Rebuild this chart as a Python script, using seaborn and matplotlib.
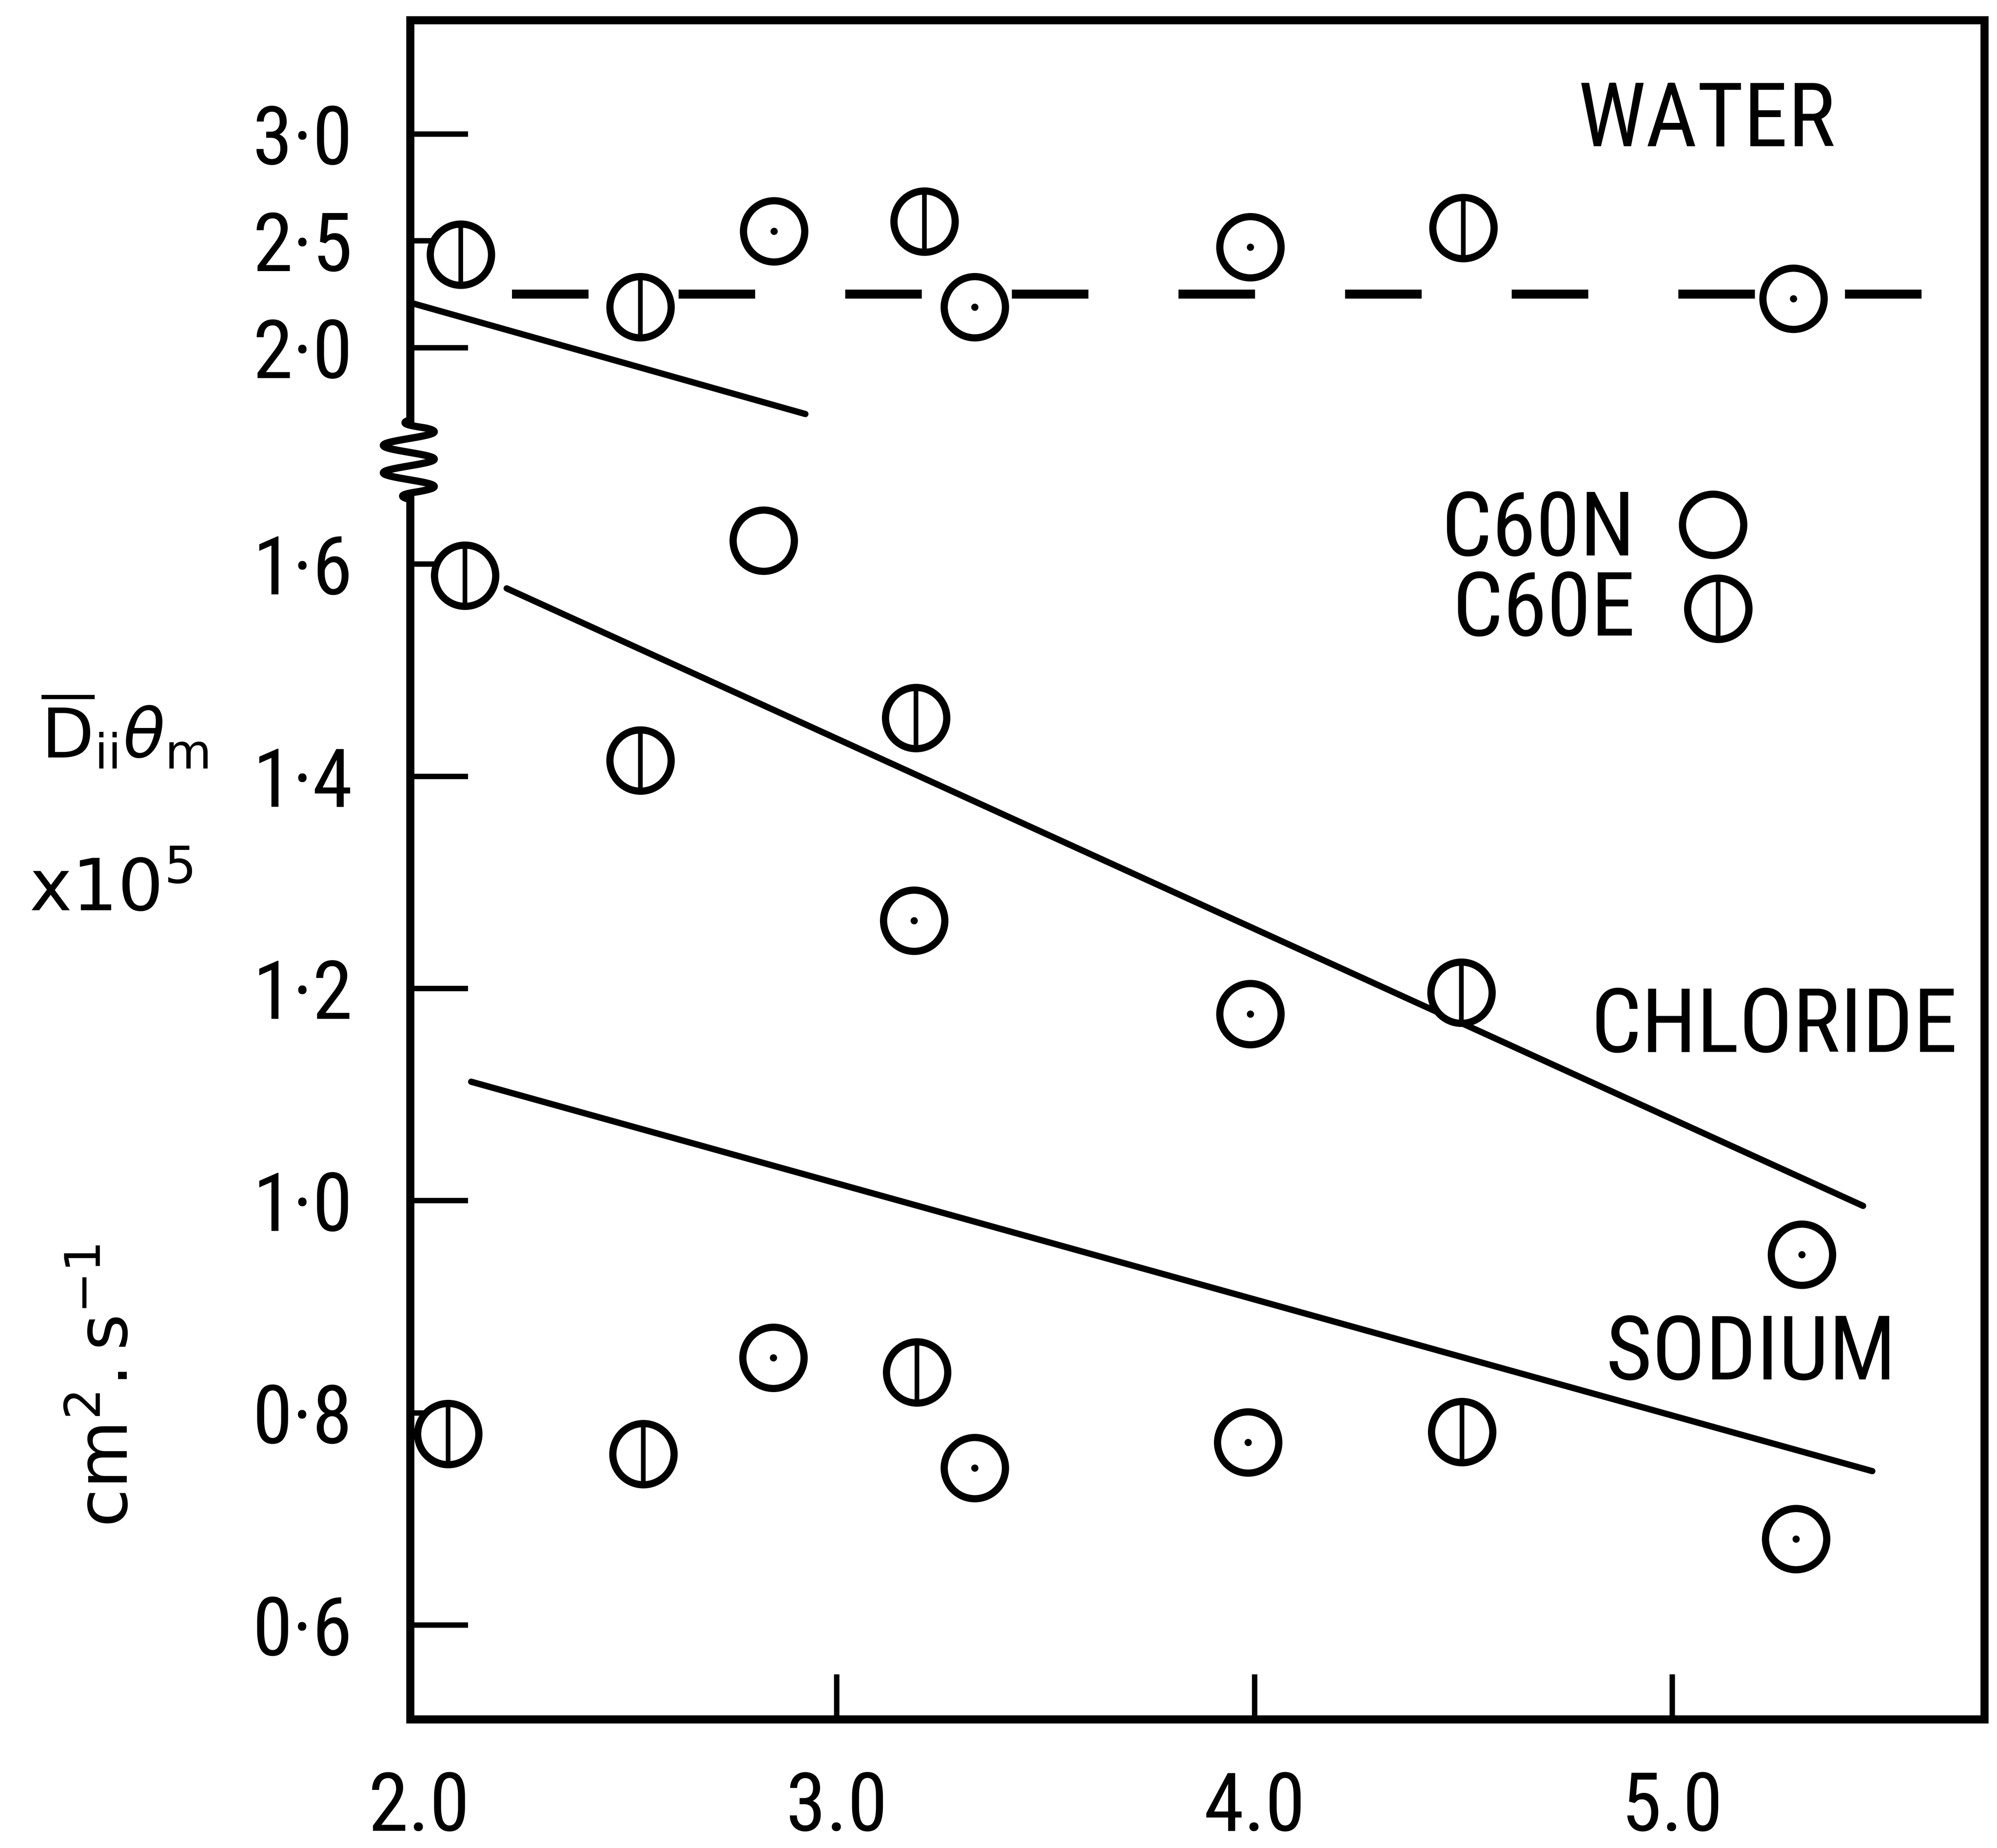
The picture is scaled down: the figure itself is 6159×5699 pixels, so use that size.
import numpy as np
import pandas as pd
import matplotlib
matplotlib.use("Agg")
import matplotlib.pyplot as plt
from matplotlib.lines import Line2D
from matplotlib import font_manager as fm
import seaborn as sns

# ---------------- data ----------------
x_ticks = [2.0, 3.0, 4.0, 5.0]
x_tick_labels = ["2.0", "3.0", "4.0", "5.0"]
upper_y_ticks = [2.0, 2.5, 3.0]
upper_y_tick_labels = ["2·0", "2·5", "3·0"]
lower_y_ticks = [0.6, 0.8, 1.0, 1.2, 1.4, 1.6]
lower_y_tick_labels = ["0·6", "0·8", "1·0", "1·2", "1·4", "1·6"]

water_x = [2.10, 2.53, 2.85, 3.21, 3.33, 3.99, 4.50, 5.29]
water_y = [2.435, 2.19, 2.545, 2.59, 2.19, 2.47, 2.56, 2.23]
water_sample = ["C60E", "C60E", "C60N", "C60E", "C60N", "C60N", "C60E", "C60N"]
water_dot = [False, False, True, False, True, True, False, True]

chloride_x = [2.11, 2.825, 2.53, 3.19, 3.185, 3.99, 4.495, 5.31]
chloride_y = [1.589, 1.622, 1.415, 1.455, 1.264, 1.176, 1.196, 0.949]
chloride_sample = ["C60E", "C60N", "C60E", "C60E", "C60N", "C60N", "C60E", "C60N"]
chloride_dot = [False, False, False, False, True, True, False, True]

sodium_x = [2.07, 2.537, 2.848, 3.192, 3.33, 3.985, 4.497, 5.296]
sodium_y = [0.780, 0.761, 0.852, 0.838, 0.748, 0.772, 0.782, 0.681]
sodium_sample = ["C60E", "C60E", "C60N", "C60E", "C60N", "C60N", "C60E", "C60N"]
sodium_dot = [False, False, True, False, True, True, False, True]

water_mean_x = [2.223, 5.613]
water_mean_y = [2.25, 2.25]
water_fit_x = [1.98, 2.925]
water_fit_y = [2.21, 1.69]
chloride_fit_x = [2.21, 5.457]
chloride_fit_y = [1.577, 0.995]
sodium_fit_x = [2.125, 5.479]
sodium_fit_y = [1.112, 0.745]

legend_labels = ["C60N", "C60E"]
ion_labels = ["WATER", "CHLORIDE", "SODIUM"]

# ---------------- fonts ----------------
avail = {f.name for f in fm.fontManager.ttflist}
condensed = {f.name for f in fm.fontManager.ttflist
             if str(f.stretch) in ("condensed", "semi-condensed", "75", "87.5")}
STRETCH = "normal"
if "Liberation Sans Narrow" in avail:
    FONT, SCALE = "Liberation Sans Narrow", 1.0
elif "Roboto Condensed" in avail:
    FONT, SCALE = "Roboto Condensed", 1.1
elif "Roboto" in condensed:
    FONT, SCALE, STRETCH = "Roboto", 1.1, "condensed"
elif "DejaVu Sans" in condensed:
    FONT, SCALE, STRETCH = "DejaVu Sans", 0.92, "condensed"
elif "Roboto" in avail:
    FONT, SCALE = "Roboto", 0.94
else:
    FONT, SCALE = "DejaVu Sans", 0.86

# ---------------- style ----------------
sns.set_theme(style="white")
plt.rcParams.update({
    "font.family": [FONT, "DejaVu Sans"],
    "font.stretch": STRETCH,
    "mathtext.fontset": "dejavusans",
    "text.color": "black",
    "axes.edgecolor": "black",
    "xtick.color": "black",
    "ytick.color": "black",
    "axes.labelcolor": "black",
})

DPI = 400
fig = plt.figure(figsize=(6159 / DPI, 5699 / DPI), dpi=DPI)
fig.patch.set_facecolor("white")

L, R = 0.2054, 0.9936
T, B, BRK = 0.9892, 0.0696, 0.7505
ax_up = fig.add_axes([L, BRK, R - L, T - BRK])
ax_lo = fig.add_axes([L, B, R - L, BRK - B])

RING_S = 34.0 ** 2
RING_LW = 4.0
VL_S = 35 ** 2
VL_LW = 2.6
DOT_S = 4.0 ** 2
LINE_LW = 3.5


def draw_points(ax, xs, ys, samples, dots):
    df = pd.DataFrame({"x": xs, "y": ys, "sample": samples, "dot": dots})
    sns.scatterplot(data=df, x="x", y="y", marker="o", s=RING_S,
                    facecolors="white", edgecolor="black", linewidth=RING_LW,
                    ax=ax, legend=False, zorder=4)
    e = df[df["sample"] == "C60E"]
    sns.scatterplot(data=e, x="x", y="y", marker="|", s=VL_S, color="black",
                    edgecolor="black", linewidth=VL_LW, ax=ax, legend=False, zorder=5)
    d = df[df["dot"]]
    if len(d):
        sns.scatterplot(data=d, x="x", y="y", marker="o", s=DOT_S, color="black",
                        edgecolor="black", linewidth=0, ax=ax, legend=False, zorder=5)


# fit / mean lines
sns.lineplot(x=water_mean_x, y=water_mean_y, ax=ax_up, color="black", lw=5.0,
             linestyle=(0, (8.5, 10.0)), zorder=3)
sns.lineplot(x=water_fit_x, y=water_fit_y, ax=ax_up, color="black", lw=LINE_LW, zorder=3)
sns.lineplot(x=chloride_fit_x, y=chloride_fit_y, ax=ax_lo, color="black", lw=LINE_LW, zorder=3)
sns.lineplot(x=sodium_fit_x, y=sodium_fit_y, ax=ax_lo, color="black", lw=LINE_LW, zorder=3)

draw_points(ax_up, water_x, water_y, water_sample, water_dot)
draw_points(ax_lo, chloride_x, chloride_y, chloride_sample, chloride_dot)
draw_points(ax_lo, sodium_x, sodium_y, sodium_sample, sodium_dot)

# ---------------- axes ----------------
for ax in (ax_up, ax_lo):
    for s in ax.spines.values():
        s.set_linewidth(4.5)
        s.set_color("black")
    ax.set_xlim(1.979, 5.747)
    ax.set_facecolor("none")
    ax.set_xlabel("")
    ax.set_ylabel("")
    ax.grid(False)

ax_up.spines["bottom"].set_visible(False)
ax_lo.spines["top"].set_visible(False)
ax_up.set_ylim(1.470, 3.532)
ax_lo.set_ylim(0.511, 1.697)
ax_up.spines["left"].set_bounds(1.66, 3.532)
ax_lo.spines["left"].set_bounds(0.511, 1.661)

TICK_FS = 41 * SCALE
ax_up.set_xticks([])
ax_up.set_yticks(upper_y_ticks, upper_y_tick_labels)
ax_lo.set_yticks(lower_y_ticks, lower_y_tick_labels)
ax_lo.set_xticks(x_ticks, x_tick_labels)
for ax in (ax_up, ax_lo):
    ax.tick_params(axis="y", direction="in", length=32, width=3, pad=32,
                   labelsize=TICK_FS, left=True, right=False)
ax_up.tick_params(axis="x", bottom=False, top=False)
ax_lo.tick_params(axis="x", direction="in", length=25, width=3, pad=28,
                  labelsize=TICK_FS, bottom=True, top=False)
ax_lo.xaxis.get_major_ticks()[0].tick1line.set_visible(False)

# ---------------- in-plot texts ----------------
TXT = 45 * SCALE
ax_up.text(0.8236, 0.713, ion_labels[0], transform=ax_up.transAxes,
           ha="center", va="baseline", fontsize=TXT)
ax_lo.text(0.8665, 0.5304, ion_labels[1], transform=ax_lo.transAxes,
           ha="center", va="baseline", fontsize=TXT)
ax_lo.text(0.8519, 0.2702, ion_labels[2], transform=ax_lo.transAxes,
           ha="center", va="baseline", fontsize=TXT)

# legend (text left of symbol, no frame)
ax_lo.text(0.7783, 0.9251, legend_labels[0], transform=ax_lo.transAxes,
           ha="right", va="baseline", fontsize=TXT)
ax_lo.text(0.7783, 0.8613, legend_labels[1], transform=ax_lo.transAxes,
           ha="right", va="baseline", fontsize=TXT)
ms = 34.0
ax_lo.plot([0.8277], [0.9494], transform=ax_lo.transAxes, marker="o", ms=ms,
           mfc="white", mec="black", mew=RING_LW, ls="none", zorder=6, clip_on=False)
ax_lo.plot([0.831], [0.8826], transform=ax_lo.transAxes, marker="o", ms=ms,
           mfc="white", mec="black", mew=RING_LW, ls="none", zorder=6, clip_on=False)
ax_lo.plot([0.831], [0.8826], transform=ax_lo.transAxes, marker="|", ms=35,
           mec="black", mew=VL_LW, ls="none", zorder=7, clip_on=False)

# ---------------- axis titles ----------------
fig.text(0.0625, 0.6037, r"$\overline{\mathrm{D}}_{\mathrm{ii}}\theta_{\mathrm{m}}$",
         ha="center", va="center", fontsize=38, family="DejaVu Sans")
fig.text(0.0555, 0.518, r"$\mathrm{x10}^{5}$", ha="center", va="center",
         fontsize=40, family="DejaVu Sans")
fig.text(0.054, 0.250, r"$\mathrm{cm}^{2}.\mathrm{s}^{-1}$", ha="center", va="center",
         rotation=90, fontsize=39, family="DejaVu Sans")

# ---------------- axis-break squiggle ----------------
yy = np.linspace(330, 392, 200)
env = np.clip(np.minimum(yy - 330, 392 - yy) / 6.0, 0, 1)
xx = 321 + 20 * env * np.sin(2 * np.pi * (yy - 333.6) / 21.5)
fig.add_artist(Line2D(xx / 1568.0, 1 - yy / 1451.0, transform=fig.transFigure,
                      color="black", lw=4.0))

fig.savefig("out.png", dpi=DPI, facecolor="white")
